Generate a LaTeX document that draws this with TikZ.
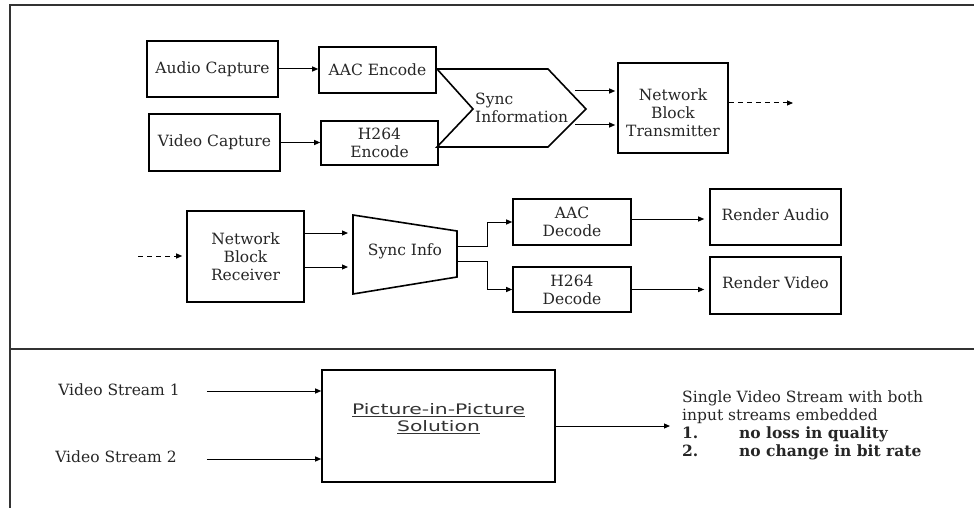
\documentclass[tikz,border=0pt]{standalone}
\usepackage{fontspec}
\usepackage{graphicx}
\setmainfont{DejaVu Serif}
\newfontfamily\pipfont{DejaVu Sans}
\usetikzlibrary{arrows.meta,calc}
\begin{document}
\begin{tikzpicture}[x=1pt,y=-1pt,
  every node/.style={font=\fontsize{15.5}{18}\selectfont, text=black!85},
  box/.style={draw, line width=1.6pt, inner sep=0pt, align=center},
  shapeline/.style={draw, line width=1.6pt, line join=miter},
  arr/.style={line width=1pt, -{Triangle[length=6pt,width=5pt]}},
  dasharr/.style={line width=1pt, dashed, dash pattern=on 5pt off 4pt, -{Triangle[length=6pt,width=5pt]}},
  frameline/.style={line width=2.2pt, black!80}]
\useasboundingbox (0,0) rectangle (974,508);
% frame
\draw[frameline] (974,5) -- (10,5) -- (10,508);
\draw[frameline] (10,349) -- (974,349);

% ---- transmitter chain
\node[box, minimum width=131pt, minimum height=56pt] (ac) at (212.5,69) {Audio Capture};
\node[box, minimum width=131pt, minimum height=57pt] (vc) at (214.5,142.5) {Video Capture};
\node[box, minimum width=117pt, minimum height=46pt] (aace) at (377.5,70) {AAC Encode};
\node[box, minimum width=117pt, minimum height=44pt] (h264e) at (379.5,143) {H264\\Encode};
\draw[shapeline] (437,69) -- (548,69) -- (586,109) -- (548,147) -- (437,147) -- (473,109) -- cycle;
\node[anchor=west, align=left, inner sep=0pt] (sync) at (475,108) {Sync\\Information};
\node[box, minimum width=110pt, minimum height=90pt] (nbt) at (673,108) {};
\node[align=center, inner sep=0pt] (nbtt) at (673,113) {Network\\Block\\Transmitter};
\coordinate (s1) at (575,91);
\coordinate (s2) at (575,125);
\coordinate (tout) at (793,103);

\draw[arr] (ac.east) -- (ac.east -| aace.west);
\draw[arr] (vc.east) -- (vc.east -| h264e.west);
\draw[arr, shorten >=2pt] (s1) -- (s1 -| nbt.west);
\draw[arr, shorten >=2pt] (s2) -- (s2 -| nbt.west);
\draw[dasharr] (nbt.east |- tout) -- (tout);

% ---- receiver chain
\coordinate (rin) at (138,256);
\node[box, minimum width=117pt, minimum height=91pt] (nbr) at (245.5,256.5) {Network\\Block\\Receiver};
\draw[shapeline] (353,215) -- (457,231) -- (457,277) -- (353,294) -- cycle;
\node[inner sep=0pt] (si) at (405,251) {Sync Info};
\coordinate (siw1) at (353,233);
\coordinate (siw2) at (353,267);
\coordinate (sie1) at (457,246);
\coordinate (sie2) at (457,261);
\coordinate (bx) at (487,0);
\node[box, minimum width=118pt, minimum height=46pt] (aacd) at (572,222) {AAC\\Decode};
\node[box, minimum width=118pt, minimum height=45pt] (h264d) at (572,289.5) {H264\\Decode};
\node[box, minimum width=131pt, minimum height=56pt] (ra) at (775.5,217) {};
\node[inner sep=0pt] (rat) at (775.5,215) {Render Audio};
\node[box, minimum width=131pt, minimum height=57pt] (rv) at (775.5,285.5) {};
\node[inner sep=0pt] (rvt) at (775.5,283) {Render Video};
\coordinate (ad) at (631,219);

\draw[dasharr, shorten >=4pt] (rin) -- (rin -| nbr.west);
\draw[arr, shorten >=5pt] (nbr.east |- siw1) -- (siw1);
\draw[arr, shorten >=5pt] (nbr.east |- siw2) -- (siw2);
\draw[arr] (sie1) -- (sie1 -| bx) |- (aacd.west);
\draw[arr] (sie2) -- (sie2 -| bx) |- (h264d.west);
\draw[arr, shorten >=5pt] (aacd.east |- ad) -- (ra.west |- ad);
\draw[arr, shorten >=5pt] (h264d.east) -- (h264d.east -| rv.west);

% ---- picture in picture
\node[inner sep=0pt] (vs1) at (119,390) {Video Stream 1};
\node[inner sep=0pt] (vs2) at (116,457) {Video Stream 2};
\node[box, minimum width=233pt, minimum height=112pt] (pip) at (438.5,426) {};
\node[inner sep=0pt, font=\pipfont\fontsize{14.5}{18}\selectfont, text=black!80] (pipt) at (438.5,419)
  {\resizebox{173pt}{\height}{\begin{tabular}{@{}c@{}}\underline{Picture-in-Picture}\\[-1pt]\underline{Solution}\end{tabular}}};
\coordinate (pout) at (670,426);
\node[anchor=west, align=left, inner sep=0pt] (res) at (682,425)
  {Single Video Stream with both\\input streams embedded\\
   \makebox[57pt][l]{\textbf{1.}}\textbf{no loss in quality}\\
   \makebox[57pt][l]{\textbf{2.}}\textbf{no change in bit rate}};

\draw[arr] (vs1.east) ++(27,1) -- (pip.west |- 0,391);
\draw[arr] (vs2.east) ++(30,2) -- (pip.west |- 0,459);
\draw[arr] (pip.east |- pout) -- (pout);
\end{tikzpicture}
\end{document}
